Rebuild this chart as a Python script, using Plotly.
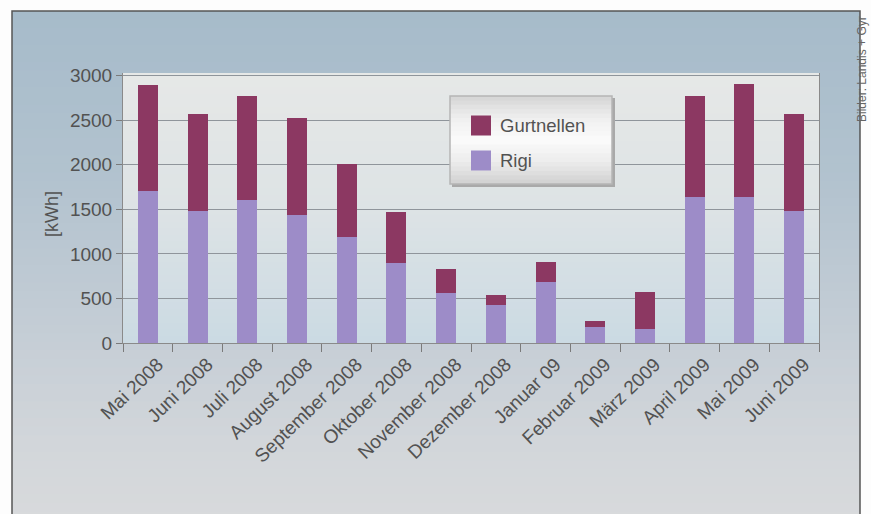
import plotly.graph_objects as go

# ---------------- data ----------------
months = ["Mai 2008", "Juni 2008", "Juli 2008", "August 2008", "September 2008",
          "Oktober 2008", "November 2008", "Dezember 2008", "Januar 09",
          "Februar 2009", "März 2009", "April 2009", "Mai 2009", "Juni 2009"]
rigi = [1710, 1485, 1600, 1440, 1195, 900, 565, 425, 680, 185, 160, 1635, 1640, 1485]
gurtnellen = [1190, 1080, 1170, 1090, 810, 575, 263, 115, 230, 62, 413, 1140, 1265, 1085]
y_ticks = [0, 500, 1000, 1500, 2000, 2500, 3000]
series_names = ["Gurtnellen", "Rigi"]
y_title = "[kWh]"
credit = "Bilder: Landis + Gyr"

# ---------------- style ----------------
C_GURT = "#8c3862"
C_RIGI = "#9d8cc8"
TXT = "#525252"
FONT = "Liberation Sans, Arial, sans-serif"

W, H = 871, 514
PL, PR, PT, PB = 123, 819, 73, 343  # plot area in pixels


def px(x):
    return (x - PL) / (PR - PL)


def py(y):
    return (PB - y) / (PB - PT)


def hex2rgb(h):
    h = h.lstrip("#")
    return tuple(int(h[i:i + 2], 16) for i in (0, 2, 4))


def interp(stops, t):
    for (t0, c0), (t1, c1) in zip(stops, stops[1:]):
        if t0 <= t <= t1:
            f = (t - t0) / (t1 - t0) if t1 > t0 else 0
            a, b = hex2rgb(c0), hex2rgb(c1)
            return "rgb(%d,%d,%d)" % tuple(round(a[i] + (b[i] - a[i]) * f) for i in range(3))
    return stops[-1][1]


shapes = []


def gradient(x0, x1, y0, y1, stops, n, layer="below"):
    h = (y1 - y0) / n
    for i in range(n):
        ya = y0 + i * h
        yb = ya + h + 0.8
        shapes.append(dict(type="rect", xref="paper", yref="paper",
                           x0=px(x0), x1=px(x1), y0=py(min(yb, y1)), y1=py(ya),
                           fillcolor=interp(stops, (i + 0.5) / n),
                           line=dict(width=0), layer=layer))


# outer frame gradient
gradient(12, 860, 11, 520,
         [(0, "#a6bbca"), (0.35, "#b3c3cf"), (0.65, "#c6ced6"), (0.85, "#d2d6da"), (1, "#d8dadc")], 60)
shapes.append(dict(type="rect", xref="paper", yref="paper",
                   x0=px(12), x1=px(860), y0=py(520), y1=py(11),
                   line=dict(color="#555555", width=1.5), layer="below"))
# plot area gradient
gradient(PL, PR, PT, PB, [(0, "#e6e8e7"), (0.5, "#dde3e5"), (1, "#cbdae3")], 40)

# legend box (custom, drawn above grid)
LX0, LX1, LY0, LY1 = 450, 612, 96, 184
shapes.append(dict(type="rect", xref="paper", yref="paper",
                   x0=px(LX0 + 2), x1=px(LX1 + 3), y0=py(LY1 + 3), y1=py(LY0 + 2),
                   fillcolor="#a9a9a9", line=dict(width=0), layer="above"))
gradient(LX0, LX1, LY0, LY1, [(0, "#d4d4d4"), (0.25, "#efefef"), (0.5, "#fbfbfb"),
                              (0.75, "#ececec"), (1, "#d0d0d0")], 20, layer="above")
shapes.append(dict(type="rect", xref="paper", yref="paper",
                   x0=px(LX0), x1=px(LX1), y0=py(LY1), y1=py(LY0),
                   line=dict(color="#b5b5b5", width=1.5), layer="above"))
legend_colors = [C_GURT, C_RIGI]
legend_rows = [125.5, 160.5]
annotations = []
for name, col, yc in zip(series_names, legend_colors, legend_rows):
    shapes.append(dict(type="rect", xref="paper", yref="paper",
                       x0=px(471), x1=px(491), y0=py(yc + 10), y1=py(yc - 10),
                       fillcolor=col, line=dict(width=0), layer="above"))
    annotations.append(dict(text=name, xref="paper", yref="paper", x=px(498), y=py(yc),
                            xanchor="left", yanchor="middle", showarrow=False,
                            font=dict(size=18.5, color=TXT, family=FONT)))

annotations.append(dict(text=y_title, xref="paper", yref="paper", x=px(52), y=py(214),
                        textangle=-90, xanchor="center", yanchor="middle", showarrow=False,
                        font=dict(size=18, color=TXT, family=FONT)))
annotations.append(dict(text=credit, xref="paper", yref="paper", x=px(862), y=py(124),
                        textangle=-90, xanchor="center", yanchor="bottom", showarrow=False,
                        font=dict(size=12, color="#666666", family=FONT)))

fig = go.Figure()
fig.add_trace(go.Bar(x=months, y=rigi, name=series_names[1], marker=dict(color=C_RIGI, line=dict(width=0)),
                     showlegend=False))
fig.add_trace(go.Bar(x=months, y=gurtnellen, name=series_names[0], marker=dict(color=C_GURT, line=dict(width=0)),
                     showlegend=False))

fig.update_layout(
    width=W, height=H,
    margin=dict(l=PL, r=W - PR, t=PT, b=H - PB, autoexpand=False),
    barmode="stack", bargap=0.6,
    paper_bgcolor="#fdfdfd", plot_bgcolor="rgba(0,0,0,0)",
    font=dict(family=FONT, color=TXT),
    shapes=shapes, annotations=annotations,
    xaxis=dict(type="category", tickangle=-44, tickfont=dict(size=19, color=TXT),
               ticks="outside", tickson="boundaries", ticklen=8, tickcolor="#7a7a7a",
               ticklabelshift=10, ticklabelstandoff=2,
               showline=True, linecolor="#8a8a8a", linewidth=1, showgrid=False,
               fixedrange=True),
    yaxis=dict(range=[0, 3030], tickvals=y_ticks, tickfont=dict(size=19, color=TXT),
               ticks="outside", ticklen=6, tickcolor="#7a7a7a",
               showline=True, linecolor="#8a8a8a", linewidth=1, mirror=True,
               showgrid=True, gridcolor="#8f959b", gridwidth=1, zeroline=False,
               fixedrange=True),
)

fig.write_html("out.html")
